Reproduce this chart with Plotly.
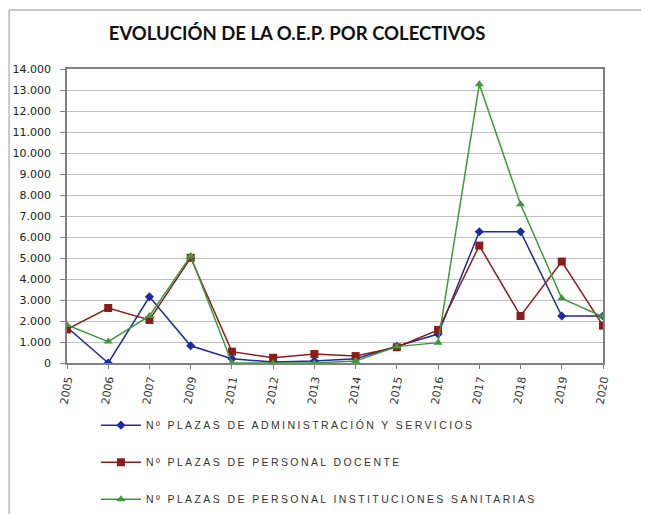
import plotly.graph_objects as go

years = ["2005", "2006", "2007", "2009", "2011", "2012", "2013", "2014",
         "2015", "2016", "2017", "2018", "2019", "2020"]
admin = [1700, 0, 3150, 820, 200, 50, 100, 200, 800, 1380, 6250, 6250, 2240, 2240]
docente = [1600, 2620, 2050, 5010, 540, 250, 430, 330, 750, 1570, 5590, 2240, 4830, 1780]
sanitarias = [1810, 1020, 2240, 5100, 0, 0, 0, 100, 780, 970, 13270, 7560, 3080, 2200]
y_ticks = list(range(0, 14001, 1000))

names = ["Nº PLAZAS DE ADMINISTRACIÓN Y SERVICIOS",
         "Nº PLAZAS DE PERSONAL DOCENTE",
         "Nº PLAZAS DE PERSONAL INSTITUCIONES SANITARIAS"]
colors = ["#1f2a9e", "#8b1c1c", "#3c9a3a"]
symbols = ["diamond", "square", "triangle-up"]
sizes = [7, 8, 8]

fig = go.Figure()
for i, (vals, name) in enumerate(zip([admin, docente, sanitarias], names)):
    fig.add_trace(go.Scatter(
        x=years, y=vals, mode="lines+markers",
        name='<span style="letter-spacing:2.4px">' + name + "</span>",
        line=dict(color=colors[i], width=1.5),
        marker=dict(symbol=symbols[i], size=sizes[i], color=colors[i]),
        legendgroup=str(i),
    ))

# page body adds an 8px offset; figure is sized to fill the remaining window
fig.update_layout(
    width=641, height=506,
    margin=dict(l=59, r=46, t=61, b=151, autoexpand=False),
    paper_bgcolor="white", plot_bgcolor="white",
    separators=",.",
    font=dict(family="DejaVu Sans, sans-serif", size=10, color="#222"),
    title=dict(text="<b>EVOLUCIÓN DE LA O.E.P. POR COLECTIVOS</b>",
               x=0.451, xanchor="center", y=0.95, yanchor="middle",
               font=dict(family="Lato, Noto Sans, sans-serif", size=18.5, color="#111")),
    showlegend=True,
    legend=dict(x=0.054, xanchor="left", y=-0.162, yanchor="top",
                font=dict(family="Liberation Sans, Arial, sans-serif", size=10.5, color="#333"),
                tracegroupgap=18, itemwidth=40,
                bgcolor="rgba(0,0,0,0)"),
    xaxis=dict(type="category", range=[0, 13], tickangle=-80, automargin=False,
               showgrid=False, showline=True, linecolor="#808080", linewidth=1.5,
               mirror=True, ticks="outside", ticklen=4, tickcolor="#808080",
               tickfont=dict(size=11, color="#333")),
    yaxis=dict(range=[0, 14000], tickvals=y_ticks, tickformat=",d", automargin=False,
               showgrid=True, gridcolor="#c0c0c0", gridwidth=1.2,
               showline=True, linecolor="#808080", linewidth=1.5, mirror=True,
               ticks="outside", ticklen=5, tickcolor="#808080",
               ticklabelstandoff=7,
               zeroline=False, tickfont=dict(size=11, color="#222")),
    shapes=[dict(type="line", xref="paper", yref="paper",
                 x0=-0.108, x1=1.2, y0=1.2007, y1=1.2007,
                 line=dict(color="#c8c8c8", width=2)),
            dict(type="line", xref="paper", yref="paper",
                 x0=-0.108, x1=-0.108, y0=1.2007, y1=-0.6,
                 line=dict(color="#c8c8c8", width=2))],
)

fig.write_html("out.html")
